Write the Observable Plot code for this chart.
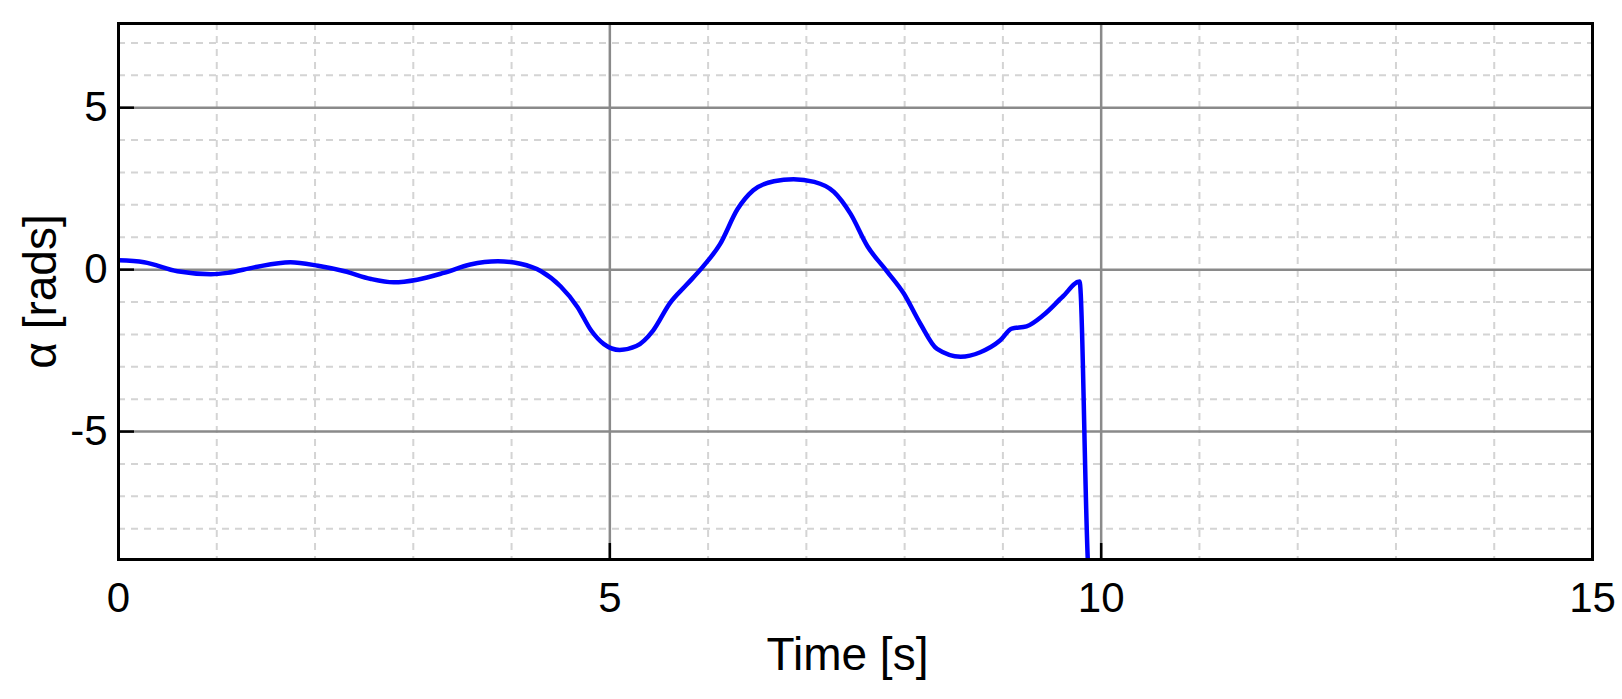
<!DOCTYPE html>
<html>
<head>
<meta charset="utf-8">
<script src="https://cdn.jsdelivr.net/npm/d3@7"></script>
<script src="https://cdn.jsdelivr.net/npm/@observablehq/plot@0.6"></script>
<style>
  html, body { margin: 0; padding: 0; background: white; }
  #chart svg { display: block; }
</style>
</head>
<body>
<div id="chart"></div>
<script>
// Time [s]
const time = [0, 0.26, 0.6, 0.94, 1.11, 1.38, 1.75, 2.03, 2.3, 2.57, 2.8, 3.04, 3.31, 3.58, 3.86, 4.09, 4.3, 4.5, 4.67, 4.81, 4.94, 5.1, 5.27, 5.44, 5.61, 5.78, 5.95, 6.12, 6.3, 6.46, 6.67, 6.87, 7.08, 7.28, 7.45, 7.62, 7.82, 7.99, 8.16, 8.33, 8.57, 8.77, 8.97, 9.09, 9.24, 9.41, 9.61, 9.78, 9.87, 9.88];
// alpha [rads]
const alpha = [0.29, 0.23, -0.05, -0.14, -0.10, 0.07, 0.23, 0.12, -0.05, -0.29, -0.39, -0.31, -0.10, 0.16, 0.26, 0.18, -0.05, -0.52, -1.15, -1.88, -2.30, -2.48, -2.36, -1.88, -1.04, -0.47, 0.10, 0.78, 1.87, 2.45, 2.73, 2.79, 2.71, 2.40, 1.72, 0.73, -0.05, -0.73, -1.67, -2.45, -2.69, -2.55, -2.19, -1.82, -1.75, -1.41, -0.83, -0.37, -9.3, -9.6];

const xTicks = [0, 5, 10, 15];
const yTicks = [-5, 0, 5];
const xMinor = [1, 2, 3, 4, 6, 7, 8, 9, 11, 12, 13, 14];
const yMinor = [-8, -7, -6, -4, -3, -2, -1, 1, 2, 3, 4, 6, 7];
const xLabel = "Time [s]";
const yLabel = "α [rads]";

const data = time.map((t, i) => ({t, a: alpha[i]}));

const W = 1622, H = 699;
const mL = 118, mR = 30, mT = 23, mB = 140;
const plotW = W - mL - mR, plotH = H - mT - mB;

const chart = Plot.plot({
  width: W, height: H,
  marginLeft: mL, marginRight: mR, marginTop: mT, marginBottom: mB,
  x: {domain: [0, 15]},
  y: {domain: [-8.95, 7.6]},
  style: {fontFamily: "'Liberation Sans', Arial, sans-serif", fontSize: "42px", color: "black", background: "white"},
  marks: [
    Plot.ruleX(xMinor, {x: d => d, stroke: "#d4d4d4", strokeWidth: 2, strokeDasharray: "7,6"}),
    Plot.ruleY(yMinor, {y: d => d, stroke: "#d4d4d4", strokeWidth: 2, strokeDasharray: "7,6"}),
    Plot.ruleX([5, 10], {x: d => d, stroke: "#8a8a8a", strokeWidth: 2.5}),
    Plot.ruleY(yTicks, {y: d => d, stroke: "#8a8a8a", strokeWidth: 2.5}),
    Plot.tickY(yTicks, {y: d => d, insetRight: plotW - 16, stroke: "black", strokeWidth: 2.5}),
    Plot.tickX(xTicks, {x: d => d, insetTop: plotH - 16, stroke: "black", strokeWidth: 2.5}),
    Plot.line(data, {x: "t", y: "a", stroke: "#0000ff", strokeWidth: 4.5, curve: "monotone-x", clip: true}),
    Plot.frame({stroke: "black", strokeWidth: 3}),
    Plot.axisX(xTicks, {tickSize: 0, tickPadding: 23, fontSize: 42, label: null, tickFormat: d => String(d)}),
    Plot.axisY(yTicks, {tickSize: 0, tickPadding: 11, fontSize: 42, label: null, tickFormat: d => String(d)}),
    Plot.text([xLabel], {text: d => d, frameAnchor: "bottom", dy: 96, dx: -8, fontSize: 46, lineAnchor: "middle", textAnchor: "middle"}),
    Plot.text([yLabel], {text: d => d, frameAnchor: "left", dx: -77, rotate: -90, fontSize: 46, lineAnchor: "middle", textAnchor: "middle"})
  ]
});

document.getElementById("chart").appendChild(chart);
</script>
</body>
</html>
